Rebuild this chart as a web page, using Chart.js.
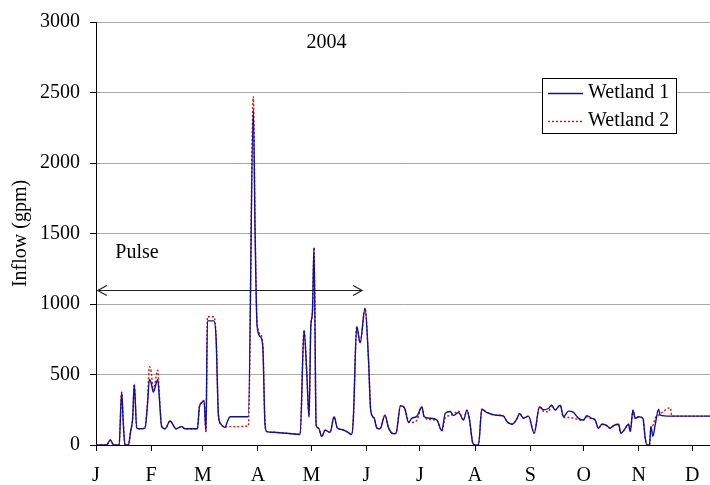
<!DOCTYPE html>
<html>
<head>
<meta charset="utf-8">
<script src="https://cdn.jsdelivr.net/npm/chart.js@4.4.1/dist/chart.umd.min.js"></script>
<style>
    html, body { margin: 0; padding: 0; background: #fff; }
    #wrap { width: 710px; height: 485px; }
</style>
</head>
<body>
<div id="wrap"><canvas id="myChart" width="710" height="485"></canvas></div>
<script>
// month ticks (day of year where each month starts) and their letters
const monthStarts = [0, 31, 60, 91, 121, 152, 182, 213, 244, 274, 305, 335];
const monthLabels = ['J', 'F', 'M', 'A', 'M', 'J', 'J', 'A', 'S', 'O', 'N', 'D'];
const yTicks = [0, 500, 1000, 1500, 2000, 2500, 3000];

// day of year for each reading
const days = [
    0, 6, 8, 10, 13, 14.4, 15.4, 16.3, 18.2, 19.5, 20.6, 21.5, 22.9, 25, 27.5,
    28.9, 30, 31, 32.2, 34.7, 35.6, 36.9, 38.8, 41.6, 45, 48.2, 50, 57,
    58.1, 59.4, 60.7, 61.8, 62.6, 66.3, 67.5, 68.8, 70.1, 72.5, 73.8, 75.3, 85.6,
    88.4, 89.4, 90.5, 92.2, 93.7, 95, 96, 100, 105, 110, 114.7,
    116.9, 118.4, 119.7, 120.7, 121.6, 122.5, 123.7, 125, 126.9, 128.7, 131.5, 133.8, 135.6,
    138.1, 140.9, 143.7, 144.6, 146.5, 148.4, 151.2, 153.1, 154.4, 156.3, 157.8,
    159.6, 162.4, 164.3, 167.1, 168.6, 171.1, 173.4, 175.6, 177.5, 180.3, 183.1, 184.4,
    187.7, 191.5, 194.3, 196.2, 199, 200.9, 203.7, 206.5, 208.4, 209.9, 211.7, 213, 214.9,
    216.8, 219.6, 224.3, 229, 230.9, 233.7, 236.5, 238, 240.2, 243, 246.2, 249.2,
    251.4, 254.2, 256.1, 258, 260.8, 262.7, 265.5, 268.3, 271.1, 273.9, 275.8, 278.6,
    280.5, 282.3, 284.3, 287, 288.9, 290.8, 293.6, 294.9, 296.8, 299.2, 300.2, 301.7,
    303, 304.8, 307.3, 308.6, 309.6, 311, 311.8, 312.9, 314.2, 316.1, 317, 322.7, 323.6, 345
];

const wetland1 = [
    0, 0, 35, 0, 0, 375, 140, 0, 0, 100, 190, 430, 120, 115, 120,
    280, 465, 440, 375, 465, 330, 130, 115, 170, 115, 130, 115, 115,
    270, 300, 315, 95, 880, 880, 750, 210, 150, 125, 165, 200, 200,
    2380, 1500, 850, 770, 700, 140, 95, 90, 85, 80, 75,
    815, 520, 200, 840, 940, 1400, 140, 120, 60, 105, 90, 200, 120,
    110, 95, 75, 190, 840, 725, 970, 610, 240, 190, 120,
    115, 212, 125, 80, 85, 278, 262, 160, 190, 203, 270, 200,
    190, 177, 100, 224, 238, 210, 230, 177, 247, 177, 14, 0, 0,
    254, 231, 212, 205, 166, 147, 185, 224, 190, 205, 84, 270,
    250, 259, 282, 247, 282, 200, 240, 231, 189, 177, 207, 189,
    177, 119, 147, 138, 119, 138, 147, 84, 107, 147, 96, 247,
    189, 200, 189, 49, 0, 0, 131, 61, 142, 254, 212, 205, 205, 205
];

const wetland2 = [
    0, 0, 35, 0, 0, 375, 140, 0, 0, 100, 190, 430, 120, 115, 120,
    300, 555, 520, 390, 530, 360, 130, 115, 170, 115, 130, 115, 115,
    270, 300, 315, 95, 910, 910, 760, 210, 150, 125, 130, 130, 135,
    2470, 1550, 870, 790, 720, 140, 95, 90, 85, 80, 75,
    815, 520, 200, 840, 940, 1400, 140, 120, 60, 105, 90, 200, 120,
    110, 95, 75, 190, 840, 725, 970, 610, 240, 190, 120,
    115, 212, 125, 80, 85, 278, 262, 170, 160, 175, 270, 200,
    180, 177, 100, 190, 210, 220, 240, 177, 247, 177, 14, 0, 0,
    254, 231, 212, 205, 166, 147, 185, 224, 190, 205, 84, 270,
    240, 235, 282, 247, 282, 195, 195, 190, 180, 177, 200, 185,
    177, 119, 147, 138, 119, 138, 147, 84, 107, 147, 96, 247,
    189, 200, 189, 49, 0, 0, 131, 140, 190, 210, 220, 264, 205, 205
];

const toPoints = (vals) => days.map((d, i) => ({ x: d, y: vals[i] }));

const serif = 'Liberation Serif';

// text, arrow and legend drawn on top of the plot
const extrasPlugin = {
    id: 'extras',
    afterDatasetsDraw(chart) {
        const ctx = chart.ctx;
        const xs = chart.scales.x;
        const ys = chart.scales.y;
        ctx.save();
        ctx.fillStyle = '#000';
        ctx.font = '20px "' + serif + '"';
        ctx.textAlign = 'center';
        ctx.textBaseline = 'middle';
        ctx.fillText('2004', xs.getPixelForValue(129.5), ys.getPixelForValue(2850));
        ctx.fillText('Pulse', xs.getPixelForValue(23), ys.getPixelForValue(1365));

        // double headed arrow for the pulse period
        const ay = Math.round(ys.getPixelForValue(1100)) + 0.5;
        const ax1 = xs.getPixelForValue(1);
        const ax2 = xs.getPixelForValue(149.5);
        ctx.strokeStyle = '#222';
        ctx.lineWidth = 1.2;
        ctx.beginPath();
        ctx.moveTo(ax1, ay);
        ctx.lineTo(ax2, ay);
        ctx.moveTo(ax1 + 9, ay - 5);
        ctx.lineTo(ax1, ay);
        ctx.lineTo(ax1 + 9, ay + 5);
        ctx.moveTo(ax2 - 9, ay - 5);
        ctx.lineTo(ax2, ay);
        ctx.lineTo(ax2 - 9, ay + 5);
        ctx.stroke();

        // legend box
        const lx = 542.5, ly = 78.5, lw = 134, lh = 55;
        ctx.fillStyle = '#fff';
        ctx.fillRect(lx, ly, lw, lh);
        ctx.strokeStyle = '#000';
        ctx.lineWidth = 1;
        ctx.strokeRect(lx, ly, lw, lh);
        ctx.textAlign = 'left';
        chart.data.datasets.forEach((ds, i) => {
            const rowY = 93 + i * 28;
            ctx.strokeStyle = ds.borderColor;
            ctx.lineWidth = ds.borderWidth;
            ctx.setLineDash(ds.borderDash || []);
            ctx.beginPath();
            ctx.moveTo(548, rowY + 0.5);
            ctx.lineTo(583, rowY + 0.5);
            ctx.stroke();
            ctx.setLineDash([]);
            ctx.fillStyle = '#000';
            ctx.fillText(ds.label, 588, rowY);
        });
        ctx.restore();
    }
};

const ctx = document.getElementById('myChart').getContext('2d');
const myChart = new Chart(ctx, {
    type: 'line',
    data: {
        datasets: [{
            label: 'Wetland 1',
            data: toPoints(wetland1),
            borderColor: '#1010a0',
            borderWidth: 1.4,
            pointRadius: 0,
            cubicInterpolationMode: 'monotone',
            fill: false
        }, {
            label: 'Wetland 2',
            data: toPoints(wetland2),
            borderColor: '#cc1010',
            borderWidth: 1.4,
            borderDash: [2, 2],
            pointRadius: 0,
            cubicInterpolationMode: 'monotone',
            fill: false
        }]
    },
    options: {
        responsive: false,
        animation: false,
        layout: { padding: { top: 18, right: 0, left: 0, bottom: 0 } },
        plugins: {
            legend: { display: false },
            tooltip: { enabled: false }
        },
        scales: {
            x: {
                type: 'linear',
                min: 0,
                max: 345,
                afterBuildTicks: (scale) => {
                    scale.ticks = monthStarts.map(v => ({ value: v }));
                },
                afterFit: (scale) => {
                    scale.height = 40;
                    scale.paddingLeft = 0;
                    scale.paddingRight = 0;
                },
                ticks: {
                    autoSkip: false,
                    maxRotation: 0,
                    padding: 13,
                    color: '#000',
                    font: { family: serif, size: 20 },
                    callback: (v) => monthLabels[monthStarts.indexOf(v)]
                },
                grid: {
                    drawOnChartArea: false,
                    tickColor: '#000',
                    tickLength: 6
                },
                border: { color: '#000', width: 1 }
            },
            y: {
                min: 0,
                max: 3000,
                afterBuildTicks: (scale) => {
                    scale.ticks = yTicks.map(v => ({ value: v }));
                },
                afterFit: (scale) => { scale.width = 96; },
                ticks: {
                    padding: 10,
                    color: '#000',
                    font: { family: serif, size: 20 },
                    callback: (v) => String(v)
                },
                grid: {
                    color: '#a8a8a8',
                    tickColor: '#000',
                    tickLength: 6
                },
                border: { color: '#000', width: 1 },
                title: {
                    display: true,
                    text: 'Inflow (gpm)',
                    color: '#000',
                    font: { family: serif, size: 20 },
                    padding: { top: 9, bottom: 0 }
                }
            }
        }
    },
    plugins: [extrasPlugin]
});
</script>
</body>
</html>
